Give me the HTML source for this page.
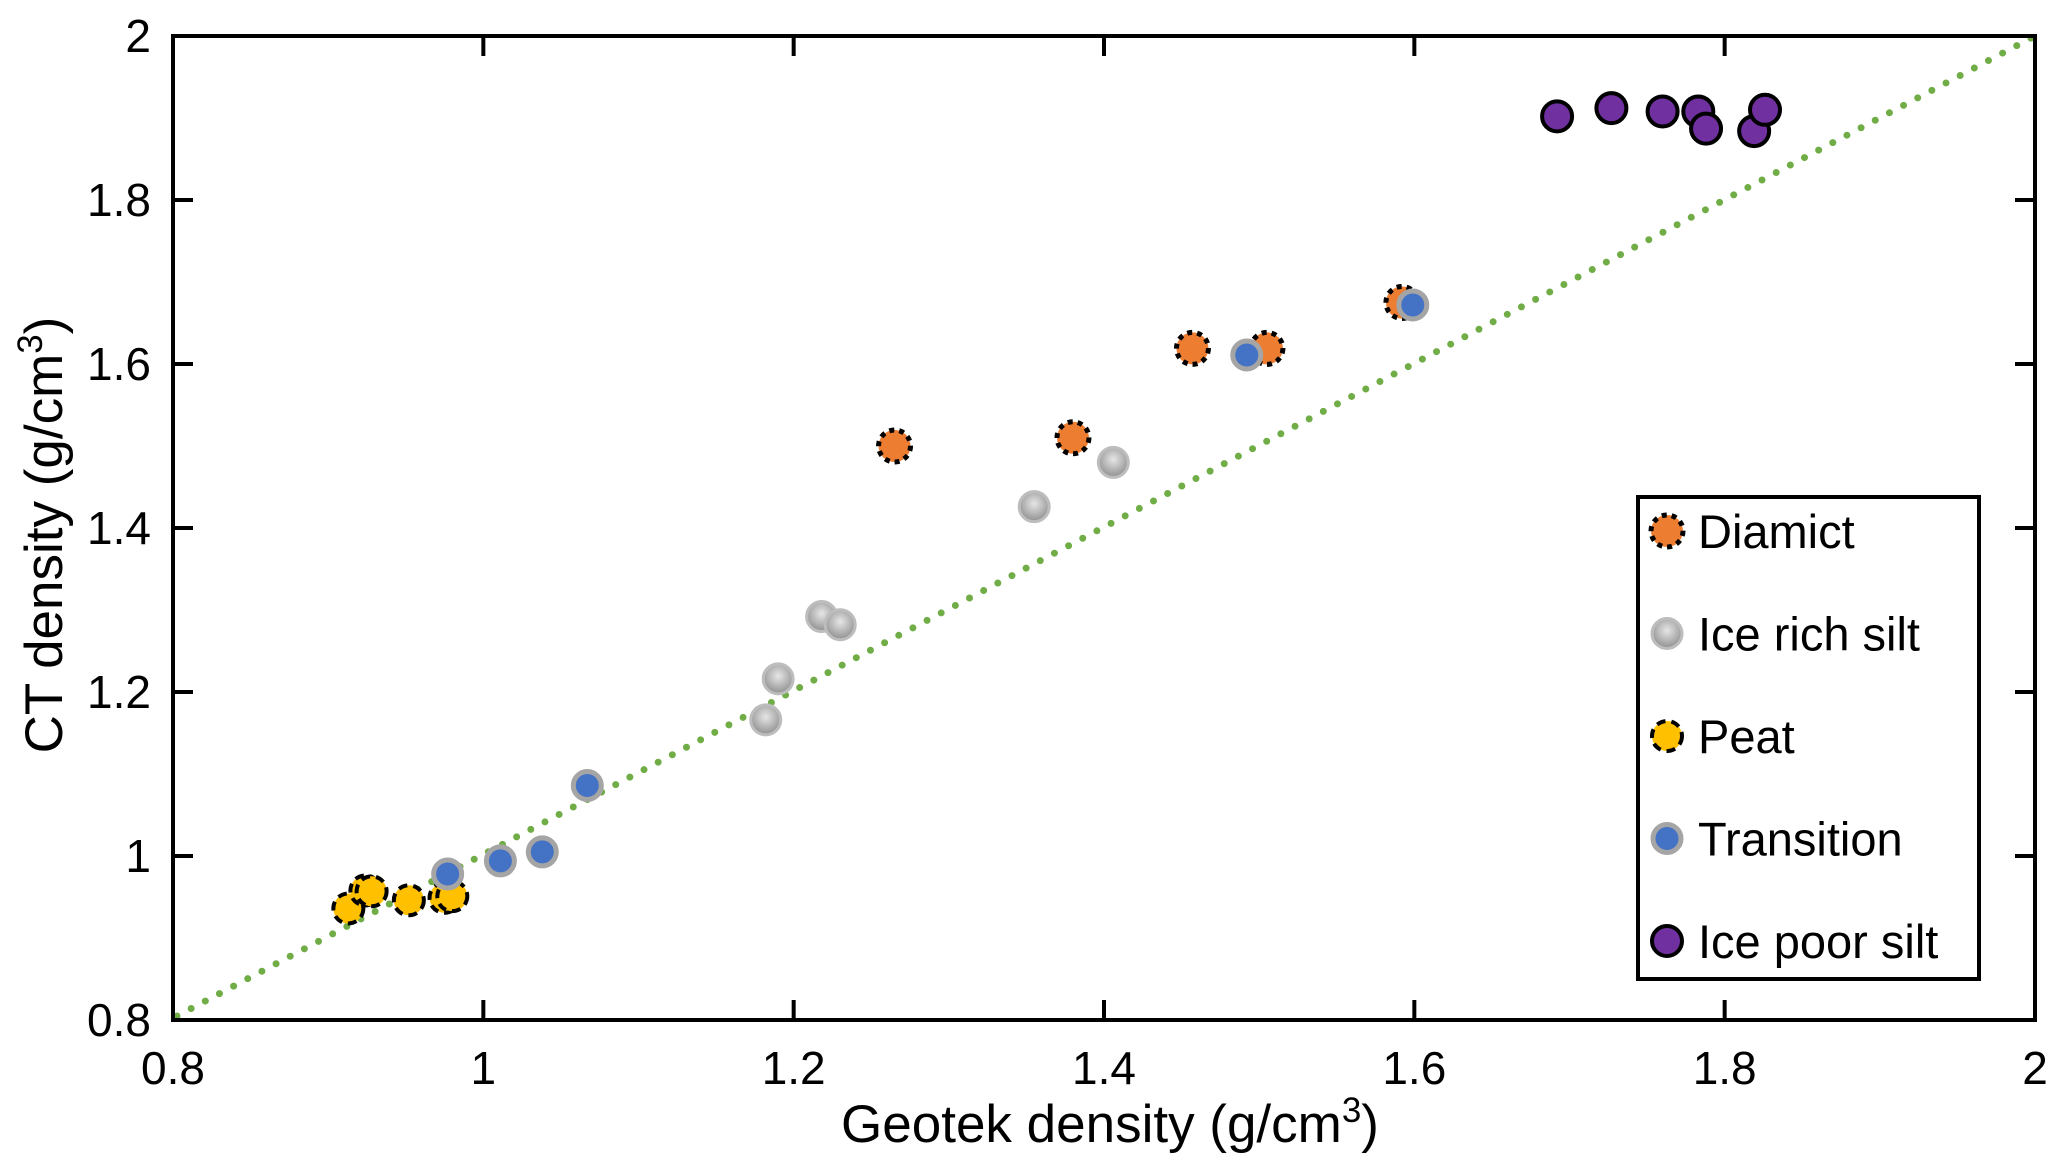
<!DOCTYPE html>
<html><head><meta charset="utf-8"><style>
body{margin:0;background:#fff;}
svg{display:block;font-family:"Liberation Sans",sans-serif;}
</style></head><body>
<svg id="chart" width="2067" height="1163" viewBox="0 0 2067 1163">
<defs>
<radialGradient id="gsilt" cx="50%" cy="40%" r="60%"><stop offset="0" stop-color="#e6e6e6"/><stop offset="1" stop-color="#8f8f8f"/></radialGradient>
</defs>
<g id="plot"></g>
</svg>
<script>
const diamictX=[1.265,1.38,1.457,1.505,1.592];
const diamictY=[1.50,1.51,1.619,1.619,1.675];
const siltX=[1.182,1.19,1.218,1.23,1.355,1.406];
const siltY=[1.166,1.216,1.292,1.282,1.426,1.48];
const peatX=[0.913,0.924,0.928,0.952,0.975,0.98];
const peatY=[0.936,0.958,0.957,0.946,0.949,0.951];
const transX=[0.977,1.011,1.038,1.067,1.492,1.599];
const transY=[0.978,0.994,1.005,1.086,1.611,1.672];
const poorX=[1.692,1.727,1.76,1.783,1.788,1.819,1.826];
const poorY=[1.902,1.912,1.908,1.908,1.887,1.884,1.91];
const xTicks=[0.8,1,1.2,1.4,1.6,1.8,2];
const yTicks=[0.8,1,1.2,1.4,1.6,1.8,2];
const xTickLabels=["0.8","1","1.2","1.4","1.6","1.8","2"];
const yTickLabels=["0.8","1","1.2","1.4","1.6","1.8","2"];

const L=173,R=2035,T=36,B=1020;
const sx=v=>L+(v-0.8)/1.2*(R-L);
const sy=v=>B-(v-0.8)/1.2*(B-T);
const NS="http://www.w3.org/2000/svg";
const g=document.getElementById('plot');
function mk(tag,at,parent){const e=document.createElementNS(NS,tag);for(const k in at)e.setAttribute(k,at[k]);(parent||g).appendChild(e);return e;}

let ln=mk('line',{x1:sx(0.8)+4,y1:sy(0.8)-4,x2:sx(2),y2:sy(2),stroke:'#70ad47','stroke-width':7,'stroke-linecap':'round','stroke-dasharray':'0 16'});



let bx=mk('rect',{x:L,y:T,width:R-L,height:B-T,fill:'none',stroke:'#000','stroke-width':4});



xTicks.forEach((v,i)=>{
  if(i>0&&i<xTicks.length-1){
    mk('line',{x1:sx(v),y1:B,x2:sx(v),y2:B-20,stroke:'#000','stroke-width':4});
    mk('line',{x1:sx(v),y1:T,x2:sx(v),y2:T+20,stroke:'#000','stroke-width':4});
  }
  const t=mk('text',{x:sx(v),y:B+64,'font-size':46,'text-anchor':'middle',fill:'#000'});
  t.textContent=xTickLabels[i];
  
  
});
yTicks.forEach((v,i)=>{
  if(i>0&&i<yTicks.length-1){
    mk('line',{x1:L,y1:sy(v),x2:L+20,y2:sy(v),stroke:'#000','stroke-width':4});
    mk('line',{x1:R,y1:sy(v),x2:R-20,y2:sy(v),stroke:'#000','stroke-width':4});
  }
  const t=mk('text',{x:L-22,y:sy(v)+16,'font-size':46,'text-anchor':'end',fill:'#000'});
  t.textContent=yTickLabels[i];
  
  
});

function marker(x,y,type,parent){
  const p=parent||g;
  if(type==='diamict'){mk('circle',{cx:x,cy:y,r:16,fill:'#ed7d31',stroke:'#000','stroke-width':5,'stroke-dasharray':'5 5'},p);}
  else if(type==='silt'){mk('circle',{cx:x,cy:y,r:15,fill:'url(#gsilt)',stroke:'#bdbdbd','stroke-width':3},p);}
  else if(type==='peat'){mk('circle',{cx:x,cy:y,r:15,fill:'#ffc000',stroke:'#000','stroke-width':4,'stroke-dasharray':'9 6'},p);}
  else if(type==='trans'){mk('circle',{cx:x,cy:y,r:14,fill:'#4472c4',stroke:'#a5a5a5','stroke-width':5},p);}
  else {mk('circle',{cx:x,cy:y,r:15,fill:'#7030a0',stroke:'#000','stroke-width':4},p);}
}
function series(xs,ys,type,name){
  const sg=mk('g',{});
  
  
  xs.forEach((v,i)=>marker(sx(v),sy(ys[i]),type,sg));
}
series(peatX,peatY,'peat','peat-series');
series(siltX,siltY,'silt','ice-rich-silt-series');
series(diamictX,diamictY,'diamict','diamict-series');
series(transX,transY,'trans','transition-series');
series(poorX,poorY,'poor','ice-poor-silt-series');

const lg=mk('g',{});


mk('rect',{x:1638,y:497,width:341,height:482,fill:'#fff',stroke:'#000','stroke-width':4},lg);
const legNames=['Diamict','Ice rich silt','Peat','Transition','Ice poor silt'];
const legTypes=['diamict','silt','peat','trans','poor'];
legNames.forEach((n,i)=>{
  const y=531+i*102.5;
  const eg=mk('g',{},lg);
  
  
  marker(1667,y,legTypes[i],eg);
  const t=mk('text',{x:1698,y:y+17,'font-size':47,fill:'#000'},eg);
  t.textContent=n;
});

const xt=mk('text',{x:1110,y:1142,'font-size':53,'text-anchor':'middle',fill:'#000'});
xt.innerHTML='Geotek density (g/cm<tspan dy="-20" font-size="35">3</tspan><tspan dy="20">)</tspan>';


const yt=mk('text',{x:0,y:0,'font-size':53,'text-anchor':'middle',fill:'#000',transform:'translate(62,535) rotate(-90)'});
yt.innerHTML='CT density (g/cm<tspan dy="-20" font-size="35">3</tspan><tspan dy="20">)</tspan>';


</script>
</body></html>
